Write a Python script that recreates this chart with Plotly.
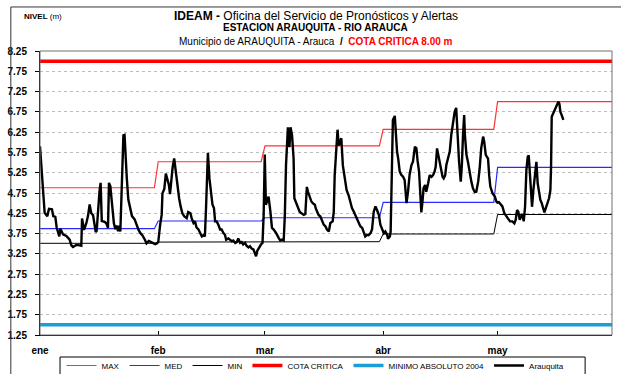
import pandas as pd
import plotly.graph_objects as go

# --- Monthly reference levels (m) ---
month_start = ["2005-01-01", "2005-02-01", "2005-03-01", "2005-04-01", "2005-05-01"]
month_end = ["2005-01-31", "2005-02-28", "2005-03-31", "2005-04-30", "2005-05-31"]
month_labels = ["ene", "feb", "mar", "abr", "may"]
nivel_max = [4.88, 5.52, 5.91, 6.32, 7.00]
nivel_med = [3.87, 4.06, 4.14, 4.52, 5.38]
nivel_min = [3.51, 3.54, 3.55, 3.74, 4.22]

cota_critica = 8.00
minimo_absoluto_2004 = 1.50

# --- Arauquita gauge readings: day offset from 1 Jan and level (m) ---
dia = [
    0, 1.22, 1.92, 2.36, 3.14, 3.48, 4.02, 4.37, 5.07, 5.33, 6.03, 6.91, 7.78, 8.22,
    8.65, 9.54, 10.44, 10.83, 11.03, 11.53, 12.13, 12.58, 13.02, 13.42, 13.92, 14.31,
    14.61, 14.86, 15.31, 15.61, 15.9, 16.2, 16.96, 17.4, 17.83, 18.09, 18.44, 18.89,
    19.38, 19.78, 20.08, 20.48, 20.77, 21.07, 21.37, 21.87, 22.17, 22.46, 22.76, 23.16,
    23.56, 24.12, 24.82, 25.35, 25.84, 26.34, 26.84, 27.43, 27.93, 28.53, 29.02, 29.62,
    30.22, 30.71,
    31.01, 31.51, 31.91, 32.11, 32.6, 33.0, 33.5, 33.8, 34.09, 34.39, 34.79, 35.19,
    35.59, 35.98, 36.48, 36.88, 37.33, 37.87, 38.47, 38.87, 39.46, 39.76, 40.26, 40.65,
    41.05, 41.55, 41.95, 42.44, 42.84, 43.24, 43.54, 43.93, 44.03, 44.43, 44.83, 45.23,
    45.62, 45.92, 46.32, 46.77, 47.22, 47.61, 48.11, 48.51, 48.81, 49.4, 49.8, 50.3,
    50.69, 51.19, 51.59, 51.99, 52.48, 52.88, 53.28, 53.78, 54.17, 54.67, 55.07, 55.51,
    55.96, 56.36, 56.66, 56.96, 57.45, 57.95, 58.35, 58.65, 58.94, 59.24,
    59.94, 60.14, 60.42, 60.83, 61.29, 61.93, 62.16, 62.62, 63.02, 63.48, 63.91, 64.21,
    64.51, 65.01, 65.41, 65.7, 66.1, 66.5, 66.7, 67.19, 67.69, 68.09, 68.59, 69.18,
    69.58, 69.98, 70.28, 70.67, 71.17, 71.52, 72.07, 72.36, 72.74, 73.06, 73.53, 73.95,
    74.4, 74.85, 75.25, 75.74, 76.14, 76.74, 77.04, 77.28, 77.63, 78.03, 78.33, 78.72,
    79.02, 79.42, 79.72, 80.12, 80.41, 80.91, 81.41, 81.81, 82.3, 82.7, 83.15, 83.6,
    83.99, 84.49, 84.89, 85.29, 85.78, 86.18, 86.68, 87.07, 87.52, 87.97, 88.37, 88.86,
    89.26, 89.66, 90.16, 90.55, 91.05, 91.25, 91.75, 91.95,
    92.54, 93.04, 93.24, 93.63, 93.93, 94.33, 94.73, 95.21, 95.62, 95.92, 96.12, 96.52,
    96.92, 97.41, 97.81, 98.31, 98.7, 99.0, 99.4, 99.75, 100.0, 100.3, 100.59, 100.99,
    101.29, 101.79, 102.18, 102.68, 103.08, 103.48, 103.77, 104.12, 104.47, 104.87,
    105.17, 105.56, 105.86, 106.26, 106.56, 107.0, 107.45, 107.85, 108.35, 108.74,
    109.14, 109.44, 109.89, 110.33, 110.63, 110.93, 111.23, 111.43, 111.83, 112.22,
    112.72, 113.12, 113.52, 114.01, 114.41, 114.91, 115.3, 115.7, 116.2, 116.5, 116.89,
    117.49, 117.79, 118.09, 118.68, 119.28, 119.68, 120.08,
    120.2, 120.9, 121.25, 121.77, 122.12, 122.65, 123.26, 123.87, 124.4, 124.75, 125.1,
    125.44, 125.8, 126.15, 126.5, 126.85, 127.2, 127.55, 127.9, 128.16, 128.42, 128.77,
    129.03, 129.38, 129.82, 130.17, 130.51, 130.87, 131.21, 131.57, 132.0, 132.27,
    132.62, 133.15, 133.49, 133.84, 134.02, 134.19, 134.54, 134.89, 135.24, 135.59,
    135.94, 136.21, 136.47, 136.81, 137.25,
]
nivel = [
    5.90, 4.26, 4.18, 4.36, 4.35, 4.18, 4.16, 3.90, 3.68, 3.87, 3.73, 3.69, 3.60, 3.46,
    3.42, 3.47, 3.46, 3.45, 4.12, 3.84, 4.00, 4.18, 4.47, 4.26, 4.20, 3.94,
    3.79, 3.82, 4.51, 4.80, 5.00, 4.06, 4.04, 4.00, 3.89, 5.00, 4.92, 4.51,
    4.00, 3.86, 3.95, 3.81, 3.94, 3.80, 4.92, 6.17, 6.18, 5.57, 5.12, 4.59,
    4.41, 4.18, 4.10, 3.95, 3.84, 3.76, 3.71, 3.61, 3.51, 3.57, 3.55, 3.51,
    3.49, 3.51,
    3.54, 3.97, 4.21, 4.74, 4.85, 5.23, 5.03, 4.95, 4.72, 5.03, 5.39, 5.60,
    5.27, 4.95, 4.62, 4.42, 4.25, 4.17, 4.13, 4.28, 4.25, 4.13, 4.01, 4.05,
    3.90, 3.85, 3.76, 3.68, 3.71, 3.68, 4.38, 5.72, 5.74, 5.11, 4.70, 4.46,
    4.38, 4.05, 4.05, 3.97, 3.85, 3.85, 3.76, 3.72, 3.60, 3.63, 3.60, 3.56,
    3.58, 3.52, 3.54, 3.63, 3.52, 3.54, 3.48, 3.52, 3.45, 3.41, 3.44, 3.38,
    3.36, 3.27, 3.19, 3.32, 3.41, 3.48, 3.52, 4.21, 5.70, 4.46,
    4.66, 4.54, 4.29, 3.89, 3.85, 3.76, 3.71, 3.64, 3.58, 3.60, 3.58, 4.21,
    5.43, 6.37, 5.88, 6.37, 6.17, 5.60, 4.62, 4.50, 4.38, 4.29, 4.25, 4.21,
    4.23, 4.90, 4.78, 4.66, 4.54, 4.50, 4.46, 4.36, 4.29, 4.21, 4.17, 4.05,
    3.97, 3.93, 3.85, 3.80, 4.01, 4.05, 4.29, 5.19, 5.88, 6.31, 5.92, 6.00,
    6.10, 5.43, 5.23, 5.03, 4.82, 4.70, 4.54, 4.38, 4.29, 4.21, 4.13, 4.01,
    3.93, 3.89, 3.80, 3.68, 3.72, 3.71, 3.76, 3.85, 4.29, 4.42, 4.33, 4.21,
    3.97, 3.85, 3.76, 3.80, 3.72, 3.62, 3.68, 3.80,
    6.55, 6.65, 6.34, 5.77, 5.60, 5.28, 5.20, 5.15, 5.07, 4.79, 4.50, 4.79,
    5.20, 5.44, 5.52, 5.89, 5.85, 5.56, 5.28, 4.70, 4.27, 4.54, 4.87, 4.95,
    4.78, 4.99, 5.19, 5.15, 5.19, 5.28, 5.40, 5.85, 5.68, 5.48,
    5.40, 5.15, 5.11, 5.19, 5.44, 5.60, 5.77, 6.18, 6.50, 6.75,
    6.85, 6.18, 5.52, 5.03, 5.44, 6.18, 6.67, 6.18, 5.69, 5.52,
    5.19, 5.03, 4.87, 4.77, 4.78, 5.03, 5.36, 5.85, 6.14, 6.01, 5.69,
    5.60, 5.19, 4.91, 4.74, 4.66, 4.54, 4.50,
    4.54, 4.46, 4.42, 4.25, 4.21, 4.13, 4.05, 4.05, 4.00, 4.09, 4.33,
    4.29, 4.09, 4.18, 4.23, 4.05, 4.41, 5.32, 5.64, 5.68, 5.23, 4.82,
    4.41, 4.82, 5.32, 5.52, 4.99, 4.78, 4.58, 4.50, 4.33, 4.27,
    4.37, 4.50, 4.62, 4.82, 5.40, 6.63, 6.71, 6.75, 6.83, 6.91,
    7.00, 6.95, 6.75, 6.67, 6.55,
]

FONT = "Arial, Liberation Sans, sans-serif"
inicio = pd.Timestamp("2005-01-01")
fechas = inicio + pd.to_timedelta(dia, unit="D")


def escalones(valores):
    """Monthly level held constant from the first to the last day of each month."""
    xs, ys = [], []
    for a, b, v in zip(month_start, month_end, valores):
        xs += [a, b]
        ys += [v, v]
    return xs, ys


fig = go.Figure()

for nombre, valores, color, ancho in [
    ("MAX", nivel_max, "#ff3333", 1.2),
    ("MED", nivel_med, "#2a2aff", 1.2),
    ("MIN", nivel_min, "#000000", 1.0),
]:
    xs, ys = escalones(valores)
    fig.add_trace(go.Scatter(x=xs, y=ys, mode="lines", name=nombre,
                             line=dict(color=color, width=ancho)))

fig.add_trace(go.Scatter(x=[month_start[0], month_end[-1]], y=[cota_critica] * 2,
                         mode="lines", name="COTA CRITICA",
                         line=dict(color="#ff0000", width=3.5)))
fig.add_trace(go.Scatter(x=[month_start[0], month_end[-1]], y=[minimo_absoluto_2004] * 2,
                         mode="lines", name="MINIMO ABSOLUTO 2004",
                         line=dict(color="#1a9ed4", width=3.5)))
fig.add_trace(go.Scatter(x=fechas, y=nivel, mode="lines", name="Arauquita",
                         line=dict(color="#000000", width=2.4)))

fig.update_xaxes(
    range=[month_start[0], month_end[-1]],
    tickvals=month_start, ticktext=month_labels,
    ticks="inside", ticklen=4, tickcolor="black",
    showline=True, linecolor="black", linewidth=1,
    showgrid=False, zeroline=False,
    ticklabelstandoff=6,
    tickfont=dict(family=FONT, size=10, color="black", weight="bold"),
)
fig.update_yaxes(
    range=[1.25, 8.25], tick0=1.25, dtick=0.5, tickformat=".2f",
    ticks="outside", ticklen=4, tickcolor="black",
    showline=True, linecolor="black", linewidth=1,
    showgrid=True, gridcolor="#bdbdbd", griddash="dot", gridwidth=1,
    zeroline=False, ticklabelstandoff=6,
    tickfont=dict(family=FONT, size=10, color="black", weight="bold"),
)

# plot-area frame (grey top/right edges)
fig.add_shape(type="rect", xref="paper", yref="paper", x0=0, x1=1, y0=0, y1=1,
              line=dict(color="#707070", width=1), layer="above")
# outer chart frame
fig.add_shape(type="rect", xref="paper", yref="paper", x0=-0.051, x1=1.2, y0=-0.3, y1=1.155,
              line=dict(color="#333333", width=1), layer="above")
# legend frame
fig.add_shape(type="rect", xref="paper", yref="paper", x0=0.035, x1=0.953,
              y0=-0.144, y1=-0.0775, line=dict(color="black", width=1), layer="above")

titulos = [
    ("<b>IDEAM - </b>Oficina del Servicio de Pronósticos y Alertas", 1.123, 12),
    ("<b>ESTACION ARAUQUITA - RIO ARAUCA</b>", 1.081, 10),
    ("Municipio de ARAUQUITA - Arauca  <b>/</b>  "
     "<b><span style='color:#ff0000'>COTA CRITICA 8.00 m</span></b>", 1.035, 10),
]
for texto, y, tam in titulos:
    fig.add_annotation(text=texto, xref="paper", yref="paper", x=0.4825, y=y,
                       xanchor="center", yanchor="middle", showarrow=False,
                       font=dict(family=FONT, size=tam, color="black"))

fig.add_annotation(text="<b>NIVEL</b> (m)", xref="paper", yref="paper", x=-0.031, y=1.123,
                   xanchor="left", yanchor="middle", showarrow=False,
                   font=dict(family=FONT, size=8, color="black"))

fig.update_layout(
    width=621, height=374,
    margin=dict(l=40, r=9, t=51, b=39, autoexpand=False),
    paper_bgcolor="white", plot_bgcolor="white",
    font=dict(family=FONT, color="black"),
    showlegend=True,
    legend=dict(orientation="h", x=0.4817, xanchor="center", y=-0.0563, yanchor="top",
                borderwidth=0, bgcolor="rgba(0,0,0,0)",
                font=dict(family=FONT, size=8, color="black"),
                itemwidth=30, tracegroupgap=0),
)

fig.write_html("out.html")
